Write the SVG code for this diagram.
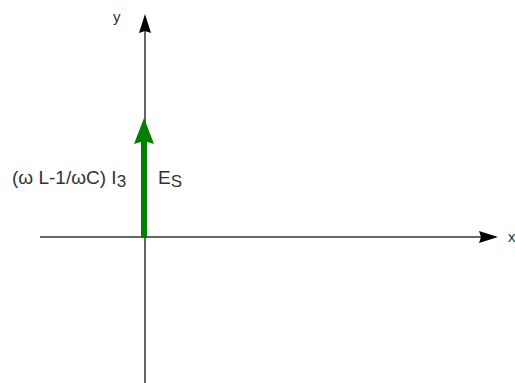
<svg xmlns="http://www.w3.org/2000/svg" width="515" height="383" viewBox="0 0 515 383">
<style>
.axis{stroke:#333;stroke-width:1.5;fill:none}
.head{fill:#000}
.lbl{font-family:"Liberation Sans",Arial,sans-serif;fill:#333}
</style>
<rect width="515" height="383" fill="#fff"/>
<g id="connectors">
<line class="axis" x1="145" y1="383" x2="145" y2="28"/>
<path class="head" d="M145,14 L151,33 L145,31 L139,33 Z"/>
<line class="axis" x1="40" y1="237" x2="485" y2="237"/>
<path class="head" d="M498,237 L479,243 L481,237 L479,231 Z"/>
</g>
<g id="es-vector">
<line x1="144" y1="238" x2="144" y2="138" stroke="#008000" stroke-width="6"/>
<path d="M144,118 L154,144 L144,141 L134,144 Z" fill="#008000"/>
</g>
<g id="labels">
<text class="lbl" x="113" y="22" font-size="15">y</text>
<text class="lbl" x="508" y="242" font-size="15">x</text>
<text class="lbl" x="12" y="184" font-size="19">(ω L-1/ωC) I<tspan font-size="17" dy="3">3</tspan></text>
<text class="lbl" x="158" y="184" font-size="19">E<tspan font-size="17" dy="3">S</tspan></text>
</g>
</svg>
